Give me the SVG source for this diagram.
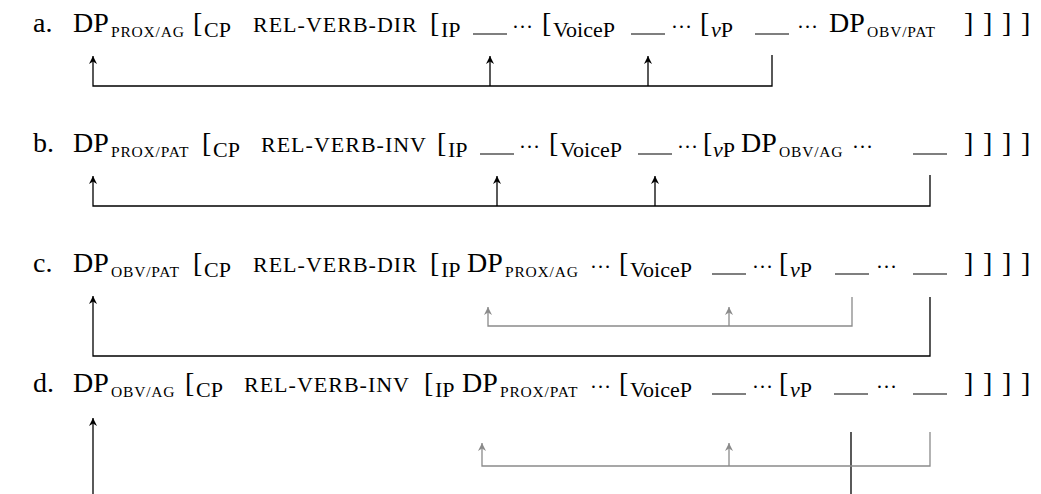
<svg xmlns="http://www.w3.org/2000/svg" width="1041" height="494" viewBox="0 0 1041 494">
<style>
text{font-family:"Liberation Serif","Times New Roman",serif;fill:#000}
.m{font-size:28px}
.sc{font-size:15.5px;letter-spacing:0.8px}
.sub{font-size:22px}
.rv{font-size:22px;letter-spacing:1px}
.d{font-size:21px}
.it{font-style:italic}
.blank{stroke:#000;stroke-width:1.2}
.k{fill:none;stroke:#000;stroke-width:1.3}
.g{fill:none;stroke:#8a8a8a;stroke-width:1.3}
</style>
<defs>
<marker id="ak" viewBox="0 0 10 10" refX="10" refY="5" markerWidth="9" markerHeight="8" orient="auto" markerUnits="userSpaceOnUse"><path d="M0,0 L10,5 L0,10 L3,5 Z" fill="#000"/></marker>
<marker id="ag" viewBox="0 0 10 10" refX="10" refY="5" markerWidth="9" markerHeight="8" orient="auto" markerUnits="userSpaceOnUse"><path d="M0,0 L10,5 L0,10 L3,5 Z" fill="#8a8a8a"/></marker>
</defs>

<g id="row-a">
<text class="m" x="33" y="32">a.</text>
<text class="m" x="73" y="32">DP</text>
<text class="sc" x="111" y="37">PROX/AG</text>
<text class="m" x="193" y="32">[</text>
<text class="sub" x="204" y="37">CP</text>
<text class="rv" x="253" y="32">REL-VERB-DIR</text>
<text class="m" x="430" y="32">[</text>
<text class="sub" x="441" y="37">IP</text>
<line class="blank" x1="473" y1="34" x2="507" y2="34"/>
<text class="d" x="512" y="28">…</text>
<text class="m" x="542" y="32">[</text>
<text class="sub" x="553" y="37">VoiceP</text>
<line class="blank" x1="631" y1="34" x2="665" y2="34"/>
<text class="d" x="671" y="28">…</text>
<text class="m" x="700" y="32">[</text>
<text class="sub" x="711" y="37"><tspan class="it">ν</tspan>P</text>
<line class="blank" x1="755" y1="34" x2="789" y2="34"/>
<text class="d" x="797" y="28">…</text>
<text class="m" x="829" y="32">DP</text>
<text class="sc" x="867" y="37">OBV/PAT</text>
<text class="m" x="964" y="32">]</text>
<text class="m" x="983" y="32">]</text>
<text class="m" x="1002" y="32">]</text>
<text class="m" x="1021" y="32">]</text>
</g>

<g id="row-b">
<text class="m" x="33" y="152">b.</text>
<text class="m" x="73" y="152">DP</text>
<text class="sc" x="111" y="157">PROX/PAT</text>
<text class="m" x="202" y="152">[</text>
<text class="sub" x="213" y="157">CP</text>
<text class="rv" x="261" y="152">REL-VERB-INV</text>
<text class="m" x="437" y="152">[</text>
<text class="sub" x="448" y="157">IP</text>
<line class="blank" x1="480" y1="154" x2="514" y2="154"/>
<text class="d" x="519" y="148">…</text>
<text class="m" x="549" y="152">[</text>
<text class="sub" x="560" y="157">VoiceP</text>
<line class="blank" x1="638" y1="154" x2="672" y2="154"/>
<text class="d" x="677" y="148">…</text>
<text class="m" x="703" y="152">[</text>
<text class="sub" x="713" y="157"><tspan class="it">ν</tspan>P</text>
<text class="m" x="741" y="152">DP</text>
<text class="sc" x="779" y="157">OBV/AG</text>
<text class="d" x="852" y="148">…</text>
<line class="blank" x1="913" y1="154" x2="947" y2="154"/>
<text class="m" x="964" y="152">]</text>
<text class="m" x="983" y="152">]</text>
<text class="m" x="1002" y="152">]</text>
<text class="m" x="1021" y="152">]</text>
</g>

<g id="row-c">
<text class="m" x="33" y="272">c.</text>
<text class="m" x="73" y="272">DP</text>
<text class="sc" x="111" y="277">OBV/PAT</text>
<text class="m" x="193" y="272">[</text>
<text class="sub" x="204" y="277">CP</text>
<text class="rv" x="253" y="272">REL-VERB-DIR</text>
<text class="m" x="430" y="272">[</text>
<text class="sub" x="441" y="277">IP</text>
<text class="m" x="467" y="272">DP</text>
<text class="sc" x="505" y="277">PROX/AG</text>
<text class="d" x="590" y="268">…</text>
<text class="m" x="619" y="272">[</text>
<text class="sub" x="630" y="277">VoiceP</text>
<line class="blank" x1="712" y1="274" x2="746" y2="274"/>
<text class="d" x="752" y="268">…</text>
<text class="m" x="779" y="272">[</text>
<text class="sub" x="790" y="277"><tspan class="it">ν</tspan>P</text>
<line class="blank" x1="835" y1="274" x2="869" y2="274"/>
<text class="d" x="876" y="268">…</text>
<line class="blank" x1="913" y1="274" x2="947" y2="274"/>
<text class="m" x="964" y="272">]</text>
<text class="m" x="983" y="272">]</text>
<text class="m" x="1002" y="272">]</text>
<text class="m" x="1021" y="272">]</text>
</g>

<g id="row-d">
<text class="m" x="33" y="392">d.</text>
<text class="m" x="73" y="392">DP</text>
<text class="sc" x="111" y="397">OBV/AG</text>
<text class="m" x="185" y="392">[</text>
<text class="sub" x="196" y="397">CP</text>
<text class="rv" x="244" y="392">REL-VERB-INV</text>
<text class="m" x="424" y="392">[</text>
<text class="sub" x="435" y="397">IP</text>
<text class="m" x="462" y="392">DP</text>
<text class="sc" x="500" y="397">PROX/PAT</text>
<text class="d" x="590" y="388">…</text>
<text class="m" x="619" y="392">[</text>
<text class="sub" x="630" y="397">VoiceP</text>
<line class="blank" x1="712" y1="394" x2="746" y2="394"/>
<text class="d" x="752" y="388">…</text>
<text class="m" x="779" y="392">[</text>
<text class="sub" x="790" y="397"><tspan class="it">ν</tspan>P</text>
<line class="blank" x1="834" y1="394" x2="868" y2="394"/>
<text class="d" x="876" y="388">…</text>
<line class="blank" x1="913" y1="394" x2="947" y2="394"/>
<text class="m" x="964" y="392">]</text>
<text class="m" x="983" y="392">]</text>
<text class="m" x="1002" y="392">]</text>
<text class="m" x="1021" y="392">]</text>
</g>

<g id="connectors">
<path class="k" d="M772,55 V86 H93 V56" marker-end="url(#ak)"/>
<path class="k" d="M490,86 V56" marker-end="url(#ak)"/>
<path class="k" d="M648,86 V56" marker-end="url(#ak)"/>

<path class="k" d="M930,175 V206 H93 V176" marker-end="url(#ak)"/>
<path class="k" d="M497,206 V176" marker-end="url(#ak)"/>
<path class="k" d="M655,206 V176" marker-end="url(#ak)"/>

<path class="k" d="M930,297 V356 H93 V296" marker-end="url(#ak)"/>
<path class="g" d="M852,297 V326 H488 V307" marker-end="url(#ag)"/>
<path class="g" d="M729,326 V307" marker-end="url(#ag)"/>

<path class="k" d="M93,494 V418" marker-end="url(#ak)"/>
<path class="k" d="M851,432 V494"/>
<path class="g" d="M930,432 V466 H482 V443" marker-end="url(#ag)"/>
<path class="g" d="M729,466 V443" marker-end="url(#ag)"/>
</g>
</svg>
